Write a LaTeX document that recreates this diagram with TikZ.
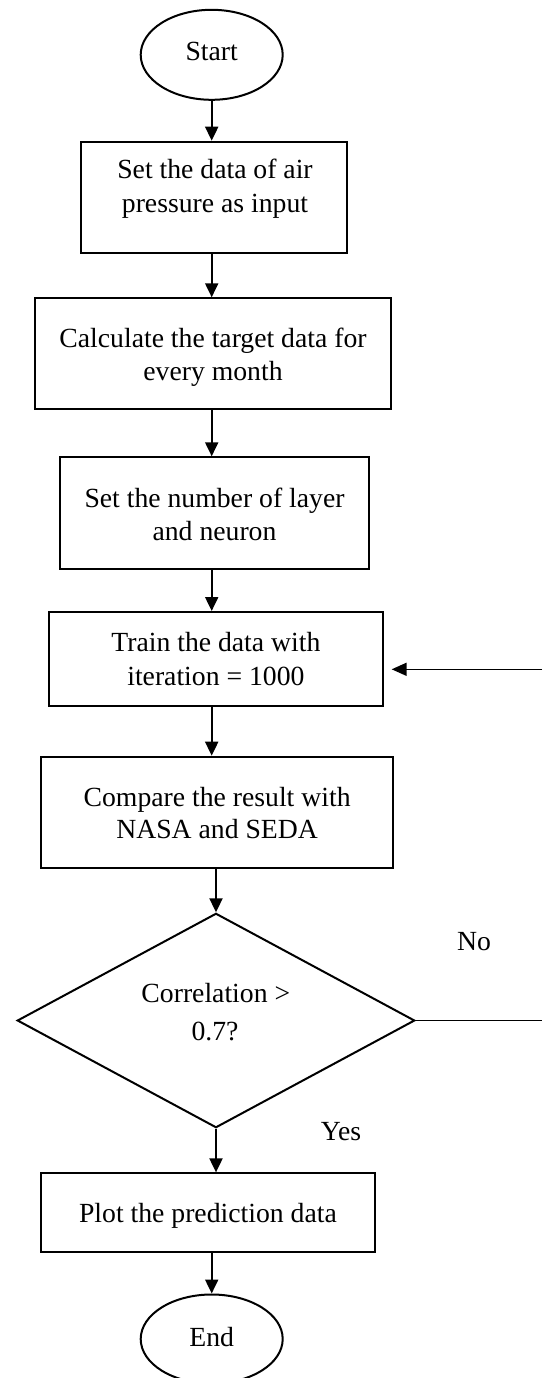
\documentclass[tikz,border=0pt]{standalone}
\usepackage{fontspec}
\setmainfont{Liberation Serif}
\usetikzlibrary{shapes.geometric,arrows.meta}
\tikzset{
  boxnode/.style={draw, line width=2pt, rectangle, inner sep=0pt},
  termnode/.style={draw, line width=2pt, ellipse, inner sep=0pt, minimum width=142pt, minimum height=90pt},
  decnode/.style={draw, line width=2pt, diamond, inner sep=0pt},
  txt/.style={anchor=base, inner sep=0pt, font=\fontsize{27.7}{33}\selectfont},
  arr/.style={line width=2pt, -{Triangle[length=14pt,width=13pt]}},
  fbarr/.style={line width=1.6pt, -{Triangle[length=15pt,width=13pt]}},
  thinline/.style={line width=1.3pt}
}
\begin{document}
\begin{tikzpicture}[x=1pt,y=-1pt]
\fill[white] (0,0) rectangle (542,1378);
\useasboundingbox (0,0) rectangle (542,1378);

% shapes
\node[termnode] (s) at (211.7,54.8) {};
\node[boxnode, minimum width=266pt, minimum height=111.6pt] (b1) at (214.3,197.5) {};
\node[boxnode, minimum width=355.3pt, minimum height=111pt] (b2) at (213,353.8) {};
\node[boxnode, minimum width=309.4pt, minimum height=112pt] (b3) at (214.5,513.3) {};
\node[boxnode, minimum width=333.5pt, minimum height=94pt] (b4) at (215.9,659) {};
\node[boxnode, minimum width=352.6pt, minimum height=111pt] (b5) at (217.1,812.2) {};
\node[decnode, minimum width=397.5pt, minimum height=214.4pt] (d) at (216,1020.5) {};
\node[boxnode, minimum width=334.2pt, minimum height=78.7pt] (p) at (207.9,1212.7) {};
\node[termnode, minimum height=89pt] (e) at (211.7,1339) {};

% texts
\node[txt] (ts) at (211.7,60.5) {Start};
\node[txt] (t1a) at (215,178.5) {Set the data of air};
\node[txt] (t1b) at (215,212) {pressure as input};
\node[txt] (t2a) at (213,347) {Calculate the target data for};
\node[txt] (t2b) at (213,380) {every month};
\node[txt] (t3a) at (214.5,507) {Set the number of layer};
\node[txt] (t3b) at (214.5,540) {and neuron};
\node[txt] (t4a) at (215.9,651.7) {Train the data with};
\node[txt] (t4b) at (215.9,685) {iteration = 1000};
\node[txt] (t5a) at (217.1,806) {Compare the result with};
\node[txt] (t5b) at (217.1,838) {NASA and SEDA};
\node[txt] (tda) at (215.8,1002.7) {Correlation >};
\node[txt] (tdb) at (215,1040) {0.7?};
\node[txt] (tno) at (474,950) {No};
\node[txt] (tyes) at (341,1140) {Yes};
\node[txt] (tp) at (207.9,1222.7) {Plot the prediction data};
\node[txt] (te) at (211.7,1346) {End};

% connectors
\coordinate (fr) at (542,669.3);
\draw[arr] (s.south) -- (s.south |- b1.north);
\draw[arr] (b1.south -| s) -- (b2.north -| s);
\draw[arr] (b2.south -| s) -- (b3.north -| s);
\draw[arr] (b3.south -| s) -- (b4.north -| s);
\draw[arr] (b4.south -| s) -- (b5.north -| s);
\draw[arr] (b5.south -| d.north) -- (d.north);
\draw[arr] (d.south) -- (d.south |- p.north);
\draw[arr] (p.south -| e) -- (e.north);
\draw[thinline] (d.east) -- (d.east -| fr);
\draw[fbarr] (fr) -- ([xshift=8pt]b4.east |- fr);
\end{tikzpicture}
\end{document}
